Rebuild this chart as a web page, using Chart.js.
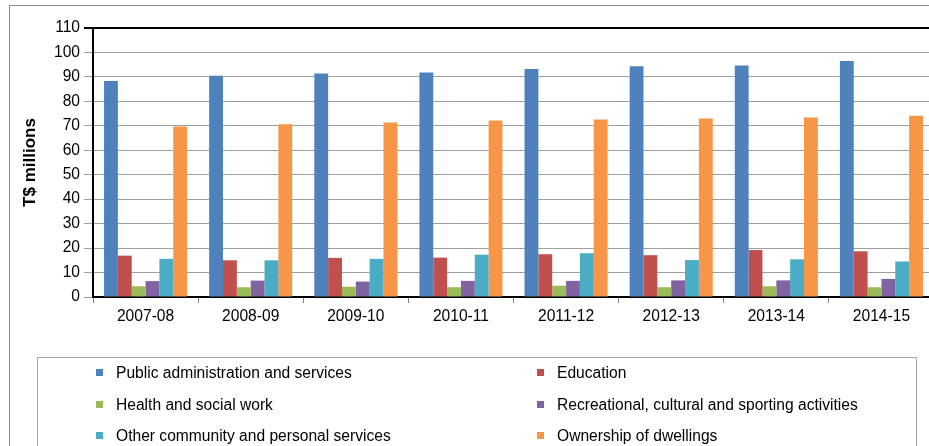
<!DOCTYPE html>
<html>
<head>
<meta charset="utf-8">
<script src="https://cdn.jsdelivr.net/npm/chart.js@4.4.1/dist/chart.umd.min.js"></script>
<style>
  html, body { margin: 0; padding: 0; background: #fff; overflow: hidden; }
  #wrap { position: relative; width: 929px; height: 446px; overflow: hidden; }
  #myChart { position: absolute; left: 0; top: 0; }
  #legend {
    position: absolute; left: 37px; top: 357px; width: 880px; height: 120px;
    border: 1px solid #a6a6a6; box-sizing: border-box;
    font-family: "Liberation Sans", Arial, sans-serif; font-size: 15.6px; color: #000;
  }
  .item { position: absolute; white-space: nowrap; line-height: 18px; }
  .item i { display: inline-block; width: 7px; height: 7px; margin-right: 13px; vertical-align: 2px; }
</style>
</head>
<body>
<div id="wrap">
  <canvas id="myChart" width="945" height="446"></canvas>
  <div id="legend"></div>
</div>
<script>
// years
const categories = ['2007-08', '2008-09', '2009-10', '2010-11', '2011-12', '2012-13', '2013-14', '2014-15'];

// T$ millions per sector
const publicAdmin   = [88.3, 90.5, 91.4, 91.8, 93.2, 94.4, 94.7, 96.5];
const education     = [16.9, 15.0, 16.0, 16.1, 17.5, 17.1, 19.2, 18.7];
const health        = [4.4, 4.0, 4.2, 4.0, 4.6, 4.0, 4.4, 4.0];
const recreational  = [6.5, 6.7, 6.3, 6.6, 6.6, 6.8, 6.8, 7.4];
const otherServices = [15.6, 15.0, 15.6, 17.3, 17.9, 15.1, 15.4, 14.5];
const dwellings     = [69.7, 70.6, 71.4, 72.2, 72.6, 73.0, 73.4, 74.1];

const yTicks = [0, 10, 20, 30, 40, 50, 60, 70, 80, 90, 100, 110];

const seriesNames = [
  'Public administration and services',
  'Education',
  'Health and social work',
  'Recreational, cultural and sporting activities',
  'Other community and personal services',
  'Ownership of dwellings'
];
const seriesValues = [publicAdmin, education, health, recreational, otherServices, dwellings];
const colours = ['#4f81bd', '#c0504d', '#9bbb59', '#8064a2', '#4bacc6', '#f79646'];

const data = {
  labels: categories,
  datasets: seriesNames.map((name, i) => ({
    label: name,
    data: seriesValues[i],
    backgroundColor: colours[i],
    borderWidth: 0,
    categoryPercentage: 0.79,
    barPercentage: 1.0
  }))
};

// outer frame of the chart object
const framePlugin = {
  id: 'frame',
  beforeDraw(chart) {
    const ctx = chart.ctx;
    ctx.save();
    ctx.fillStyle = '#fff';
    ctx.fillRect(0, 0, chart.width, chart.height);
    ctx.strokeStyle = '#8c8c8c';
    ctx.lineWidth = 1;
    ctx.strokeRect(9.5, 5.5, 2000, 2000);
    ctx.restore();
  }
};

const config_bar = {
  type: 'bar',
  data,
  options: {
    responsive: false,
    animation: false,
    layout: { padding: { left: 0, top: 28, right: 11, bottom: 109 } },
    plugins: {
      legend: { display: false },
      tooltip: { enabled: false }
    },
    scales: {
      x: {
        afterFit(scale) { scale.height = 40; },
        grid: {
          offset: true,
          drawOnChartArea: false,
          drawTicks: true,
          tickLength: 6,
          color: '#808080'
        },
        border: { color: '#000', width: 2 },
        ticks: {
          color: '#000',
          padding: 4,
          font: { family: 'Liberation Sans', size: 15.6 }
        }
      },
      y: {
        min: 0,
        max: 110,
        afterFit(scale) { scale.width = 93; },
        afterBuildTicks(scale) { scale.ticks = yTicks.map(v => ({ value: v })); },
        grid: {
          tickLength: 9,
          color: c => (c.tick && c.tick.value === 110) ? '#000' : '#a0a0a0',
          lineWidth: c => (c.tick && c.tick.value === 110) ? 2 : 1
        },
        border: { color: '#000', width: 2 },
        ticks: {
          color: '#000',
          padding: 4,
          font: { family: 'Liberation Sans', size: 15.6 }
        },
        title: {
          display: true,
          text: 'T$ millions',
          color: '#000',
          padding: { top: 20, bottom: 0 },
          font: { family: 'Liberation Sans', size: 17, weight: 'bold' }
        }
      }
    }
  },
  plugins: [framePlugin]
};

const myChart = new Chart(document.getElementById('myChart'), config_bar);

// legend in two columns, inside its own box
const legendBox = document.getElementById('legend');
myChart.data.datasets.forEach((ds, i) => {
  const col = i % 2, row = Math.floor(i / 2);
  const item = document.createElement('div');
  item.className = 'item';
  item.style.left = (58 + col * 441) + 'px';
  item.style.top = (6 + row * 31.5) + 'px';
  const box = document.createElement('i');
  box.style.background = ds.backgroundColor;
  item.appendChild(box);
  item.appendChild(document.createTextNode(ds.label));
  legendBox.appendChild(item);
});
</script>
</body>
</html>
